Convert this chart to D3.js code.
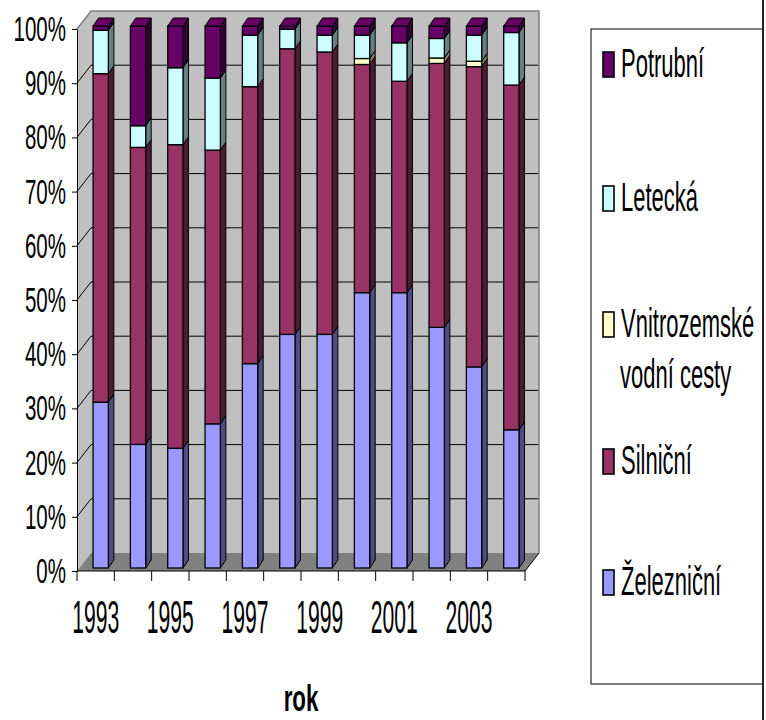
<!DOCTYPE html>
<html>
<head>
<meta charset="utf-8">
<script src="https://cdn.jsdelivr.net/npm/d3@7"></script>
<style>
  body { margin: 0; background: #fff; }
  text { font-family: "Liberation Sans", Arial, sans-serif; fill: #000; }
</style>
</head>
<body>
<div id="chart"></div>
<script>
const years = [1993, 1994, 1995, 1996, 1997, 1998, 1999, 2000, 2001, 2002, 2003, 2004];
const yearLabels = ['1993', '1995', '1997', '1999', '2001', '2003'];
const zeleznicni = [30.6, 22.8, 22.1, 26.6, 37.7, 43.1, 43.1, 50.8, 50.8, 44.4, 37.1, 25.5];
const silnicni   = [60.6, 54.8, 56.0, 50.5, 51.1, 52.7, 52.1, 42.1, 39.0, 48.7, 55.4, 63.6];
const vodni      = [0, 0, 0, 0, 0, 0, 0, 1.1, 0, 1.0, 1.0, 0];
const letecka    = [8.0, 4.0, 14.2, 13.3, 9.5, 3.6, 3.1, 4.3, 7.1, 3.6, 4.8, 9.7];
const potrubni   = [0.8, 18.4, 7.7, 9.6, 1.7, 0.6, 1.7, 1.7, 3.1, 2.3, 1.7, 1.2];
const yTicks = [0, 10, 20, 30, 40, 50, 60, 70, 80, 90, 100];

const series = [
  { key: 'zel', name: 'Železniční', values: zeleznicni, color: '#9999ff', side: '#4d4d80' },
  { key: 'sil', name: 'Silniční', values: silnicni, color: '#993366', side: '#4d1a33' },
  { key: 'vod', name: 'Vnitrozemské|vodní cesty', values: vodni, color: '#ffffcc', side: '#808066' },
  { key: 'let', name: 'Letecká', values: letecka, color: '#ccffff', side: '#668080' },
  { key: 'pot', name: 'Potrubní', values: potrubni, color: '#660066', side: '#330033' }
];

const table = years.map((yr, i) => {
  const row = { year: yr };
  series.forEach(s => row[s.key] = s.values[i]);
  return row;
});

const W = 766, H = 720;
const svg = d3.select('#chart').append('svg')
    .attr('width', W)
    .attr('height', H);

const X0 = 77, X1 = 525, Y0 = 571, Y1 = 29;
const DX = 14, DY = -18;      // wall depth
const BDX = 5.5, BDY = -8;    // bar depth

const x = d3.scaleBand().domain(years).range([X0, X1]);
const y = d3.scaleLinear().domain([0, 100]).range([Y0, Y1]);

// stretched text helper (the source picture is squeezed horizontally)
function label(g, txt, tx, ty, size, sx, anchor, weight) {
  return g.append('text')
      .attr('transform', `translate(${tx},${ty}) scale(${sx},1)`)
      .attr('font-size', size)
      .attr('text-anchor', anchor || 'start')
      .attr('font-weight', weight || 'normal')
      .text(txt);
}

// walls and floor
const walls = svg.append('g');
walls.append('polygon')
    .attr('points', [[X0, Y0], [X0, Y1], [X0 + DX, Y1 + DY], [X0 + DX, Y0 + DY]].join(' '))
    .attr('fill', '#c0c0c0');
walls.append('rect')
    .attr('x', X0 + DX).attr('y', Y1 + DY)
    .attr('width', X1 - X0).attr('height', Y0 - Y1)
    .attr('fill', '#c0c0c0');
walls.append('polygon')
    .attr('points', [[X0, Y0], [X1, Y0], [X1 + DX, Y0 + DY], [X0 + DX, Y0 + DY]].join(' '))
    .attr('fill', '#808080');

// gridlines
const grid = yTicks.filter(v => v > 0 && v < 100);
walls.selectAll('.gb').data(grid).enter().append('line')
    .attr('x1', X0 + DX).attr('x2', X1 + DX)
    .attr('y1', d => y(d) + DY).attr('y2', d => y(d) + DY)
    .attr('stroke', '#000').attr('stroke-width', 1);
walls.selectAll('.gl').data(grid).enter().append('line')
    .attr('x1', X0).attr('x2', X0 + DX)
    .attr('y1', d => y(d)).attr('y2', d => y(d) + DY)
    .attr('stroke', '#000').attr('stroke-width', 1);

// wall borders
walls.append('polyline')
    .attr('points', [[X0, Y1], [X0 + DX, Y1 + DY], [X1 + DX, Y1 + DY], [X1 + DX, Y0 + DY]].join(' '))
    .attr('fill', 'none').attr('stroke', '#808080').attr('stroke-width', 1.5);
walls.append('line')
    .attr('x1', X1).attr('y1', Y0).attr('x2', X1 + DX).attr('y2', Y0 + DY)
    .attr('stroke', '#000');

// stacked 3d columns
const stack = d3.stack().keys(series.map(s => s.key));
const layers = stack(table);
const bw = x.bandwidth() * 0.41;
const boff = x.bandwidth() * 0.43;

const bars = svg.append('g');
years.forEach((yr, i) => {
  const bx = x(yr) + boff;
  const g = bars.append('g');
  layers.forEach((layer, li) => {
    const s = series[li];
    const v0 = layer[i][0], v1 = layer[i][1];
    if (v1 - v0 <= 0) return;
    const yt = y(v1) - 3, yb = y(v0) - 3;
    g.append('polygon')
        .attr('points', [[bx + bw, yt], [bx + bw + BDX, yt + BDY], [bx + bw + BDX, yb + BDY], [bx + bw, yb]].join(' '))
        .attr('fill', s.side).attr('stroke', '#000').attr('stroke-width', 1);
    g.append('rect')
        .attr('x', bx).attr('y', yt)
        .attr('width', bw).attr('height', yb - yt)
        .attr('fill', s.color).attr('stroke', '#000').attr('stroke-width', 1.3);
  });
  // top face
  const top = layers.filter(l => l[i][1] - l[i][0] > 0).pop();
  const ts = series[layers.indexOf(top)];
  const yt = y(top[i][1]) - 3;
  g.append('polygon')
      .attr('points', [[bx, yt], [bx + BDX, yt + BDY], [bx + bw + BDX, yt + BDY], [bx + bw, yt]].join(' '))
      .attr('fill', ts.color).attr('stroke', '#000').attr('stroke-width', 1);
});

// axes
const yAxis = svg.append('g')
    .attr('transform', `translate(${X0},0)`)
    .call(d3.axisLeft(y).tickValues(yTicks).tickSize(5).tickSizeOuter(0).tickFormat(''));
yAxis.selectAll('line, path').attr('stroke', '#000');

const xAxis = svg.append('g');
xAxis.append('line')
    .attr('x1', X0).attr('x2', X1).attr('y1', Y0).attr('y2', Y0)
    .attr('stroke', '#000');
xAxis.selectAll('.xt').data(years.concat(['end'])).enter().append('line')
    .attr('x1', d => d === 'end' ? X1 : x(d))
    .attr('x2', d => d === 'end' ? X1 : x(d))
    .attr('y1', Y0).attr('y2', Y0 + 10)
    .attr('stroke', '#000');

const labels = svg.append('g');
yTicks.forEach(v => label(labels, v + '%', X0 - 11, y(v) + 12, 36, 0.57, 'end'));
yearLabels.forEach(t => label(labels, t, x(+t) + x.bandwidth() / 2, 633, 46, 0.46, 'middle'));
label(labels, 'rok', (X0 + X1) / 2, 711, 36, 0.62, 'middle', 'bold');

// legend
const lg = svg.append('g');
lg.append('rect')
    .attr('x', 591).attr('y', 29)
    .attr('width', 172).attr('height', 655)
    .attr('fill', '#fff').attr('stroke', '#000').attr('stroke-width', 1);
const legendOrder = series.slice().reverse();
const legendBase = [77, 211, 337, 474, 595];
legendOrder.forEach((s, i) => {
  const by = legendBase[i];
  lg.append('rect')
      .attr('x', 603).attr('y', by - 25)
      .attr('width', 11).attr('height', 25)
      .attr('fill', s.color).attr('stroke', '#000').attr('stroke-width', 1.6);
  s.name.split('|').forEach((part, j) => {
    label(lg, part, j === 0 ? 621 : 620, by + j * 51, 41.5, 0.53, 'start');
  });
});

// right frame edge
svg.append('line')
    .attr('x1', 763).attr('x2', 763).attr('y1', 0).attr('y2', H)
    .attr('stroke', '#222').attr('stroke-width', 2);
</script>
</body>
</html>
